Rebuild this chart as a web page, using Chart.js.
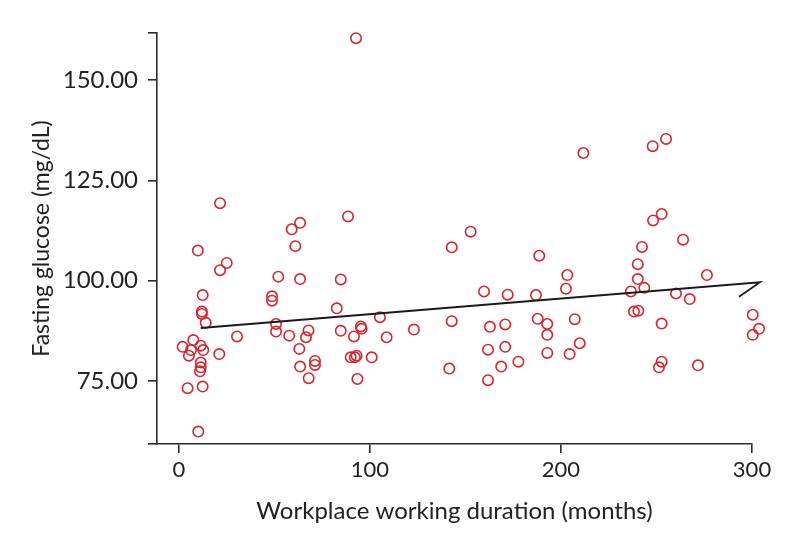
<!DOCTYPE html>
<html>
<head>
<meta charset="utf-8">
<script src="https://cdn.jsdelivr.net/npm/chart.js@4.4.1/dist/chart.umd.min.js"></script>
<style>
  html, body { margin: 0; padding: 0; background: #fff; }
  #wrap { width: 791px; height: 537px; }
</style>
</head>
<body>
<div id="wrap"><canvas id="chart-area" width="791" height="537"></canvas></div>
<script>
// working duration (months) and fasting glucose (mg/dL)
var months = [
    1.9, 7.5, 6.3, 5.2, 11.4, 12.7, 21.1, 11.4, 11.4, 11.0,
    4.5, 12.4, 10.1, 14.0, 12.0, 12.0, 12.4, 9.9, 21.5, 25.0,
    21.5, 30.4, 48.7, 48.7, 50.8, 50.8, 52.0, 57.7, 59.0, 60.9,
    63.4, 63.4, 63.0, 63.4, 66.5, 67.8, 67.9, 71.2, 71.2, 82.6,
    84.7, 84.7, 88.5, 89.9, 92.1, 93.0, 91.6, 93.4, 92.7, 95.2,
    95.6, 100.9, 105.2, 108.7, 123.0, 141.5, 142.8, 142.8, 152.7, 159.7,
    161.8, 161.8, 162.8, 168.7, 170.8, 170.8, 172.1, 177.7, 186.9, 187.8,
    188.6, 192.8, 192.8, 192.8, 202.6, 203.3, 204.5, 207.2, 209.8, 211.7,
    236.6, 238.2, 240.5, 240.2, 240.2, 242.4, 243.6, 248.2, 248.0, 252.7,
    255.0, 252.7, 252.7, 251.3, 260.2, 263.9, 267.4, 271.7, 276.4, 300.4,
    303.7, 300.4
];
var glucose = [
    83.5, 85.2, 82.7, 81.3, 83.8, 82.7, 81.7, 79.6, 78.4, 77.4,
    73.2, 73.6, 62.4, 89.5, 92.3, 91.7, 96.4, 107.5, 102.6, 104.4,
    119.3, 86.1, 96.1, 95.0, 89.2, 87.3, 101.0, 86.3, 112.8, 108.6,
    114.4, 100.4, 83.0, 78.6, 85.9, 87.6, 75.7, 80.0, 79.0, 93.1,
    100.3, 87.5, 116.0, 80.9, 80.9, 81.3, 86.1, 75.5, 160.4, 88.6,
    88.0, 80.9, 90.9, 85.9, 87.8, 78.1, 89.9, 108.3, 112.2, 97.3,
    82.8, 75.2, 88.5, 78.6, 89.1, 83.5, 96.5, 79.8, 96.4, 90.5,
    106.2, 89.2, 86.5, 82.0, 98.0, 101.4, 81.7, 90.4, 84.4, 131.8,
    97.3, 92.3, 92.5, 100.4, 104.1, 108.4, 98.2, 115.0, 133.5, 116.6,
    135.3, 89.3, 79.8, 78.4, 96.8, 110.2, 95.4, 78.9, 101.4, 91.5,
    88.0, 86.5
];

// fit line as printed (with the little hook at its end)
var fitMonths = [11.4, 304.2, 293.2];
var fitGlucose = [88.2, 99.6, 96.0];

var xTicks = [0, 100, 200, 300];
var yTicks = [75, 100, 125, 150];
var xMin = -11.5, xMax = 300;
var yMin = 59.3, yMax = 161.7;

var axisColor = '#2a2a2a';
var pointRed = 'rgb(220, 35, 45)';

// points past the last tick still have to show, so widen the area for drawing
var roomForOutliers = {
    id: 'roomForOutliers',
    beforeDatasetsDraw: function(chart) {
        chart._savedRight = chart.chartArea.right;
        chart.chartArea.right += 30;
    },
    afterDatasetsDraw: function(chart) {
        chart.chartArea.right = chart._savedRight;
    }
};

window.onload = function() {
    var points = [];
    for (var i = 0; i < months.length; i++) {
        points.push({ x: months[i], y: glucose[i] });
    }
    var fit = [];
    for (var j = 0; j < fitMonths.length; j++) {
        fit.push({ x: fitMonths[j], y: fitGlucose[j] });
    }

    var ctx = document.getElementById('chart-area').getContext('2d');
    window.myScatter = new Chart(ctx, getconfig(points, fit));
};

function getconfig(points, fit) {
    var config = {
        type: 'scatter',
        data: {
            datasets: [{
                label: 'Fit',
                type: 'line',
                data: fit,
                borderColor: '#1a1a1a',
                borderWidth: 1.8,
                pointRadius: 0,
                fill: false,
                clip: false
            }, {
                label: 'Subjects',
                data: points,
                pointStyle: 'circle',
                pointRadius: 5.2,
                pointBorderWidth: 1.6,
                borderColor: pointRed,
                backgroundColor: 'rgba(0,0,0,0)',
                clip: false
            }]
        },
        plugins: [roomForOutliers],
        options: {
            responsive: false,
            animation: false,
            layout: {
                padding: { left: 0, right: 39, top: 33, bottom: 0 }
            },
            plugins: {
                legend: { display: false },
                tooltip: { enabled: false }
            },
            scales: {
                x: {
                    type: 'linear',
                    min: xMin,
                    max: xMax,
                    afterBuildTicks: function(scale) {
                        scale.ticks = xTicks.map(function(v) { return { value: v }; });
                    },
                    afterFit: function(scale) { scale.height = 93; },
                    border: { display: true, color: axisColor, width: 1.6 },
                    grid: {
                        drawOnChartArea: false,
                        drawTicks: true,
                        tickLength: 9,
                        color: axisColor,
                        lineWidth: 1.6
                    },
                    ticks: {
                        padding: 4,
                        color: '#222',
                        font: { family: 'Lato', size: 22 },
                        maxRotation: 0,
                        callback: function(v) { return String(v); }
                    },
                    title: {
                        display: true,
                        text: 'Workplace working duration (months)',
                        color: '#222',
                        font: { family: 'Lato', size: 24 },
                        padding: { top: 0, bottom: 11 }
                    }
                },
                y: {
                    type: 'linear',
                    min: yMin,
                    max: yMax,
                    afterBuildTicks: function(scale) {
                        var t = [{ value: yMin }];
                        yTicks.forEach(function(v) { t.push({ value: v }); });
                        t.push({ value: yMax });
                        scale.ticks = t;
                    },
                    afterFit: function(scale) { scale.width = 157; },
                    border: { display: true, color: axisColor, width: 1.6 },
                    grid: {
                        drawOnChartArea: false,
                        drawTicks: true,
                        tickLength: 9,
                        color: axisColor,
                        lineWidth: 1.6
                    },
                    ticks: {
                        padding: 10,
                        color: '#222',
                        font: { family: 'Lato', size: 24 },
                        callback: function(v) {
                            return yTicks.indexOf(v) >= 0 ? v.toFixed(2) : '';
                        }
                    },
                    title: {
                        display: true,
                        text: 'Fasting glucose (mg/dL)',
                        color: '#222',
                        font: { family: 'Lato', size: 23 },
                        padding: { top: 28, bottom: 0 }
                    }
                }
            }
        }
    };

    return config;
}
</script>
</body>
</html>
